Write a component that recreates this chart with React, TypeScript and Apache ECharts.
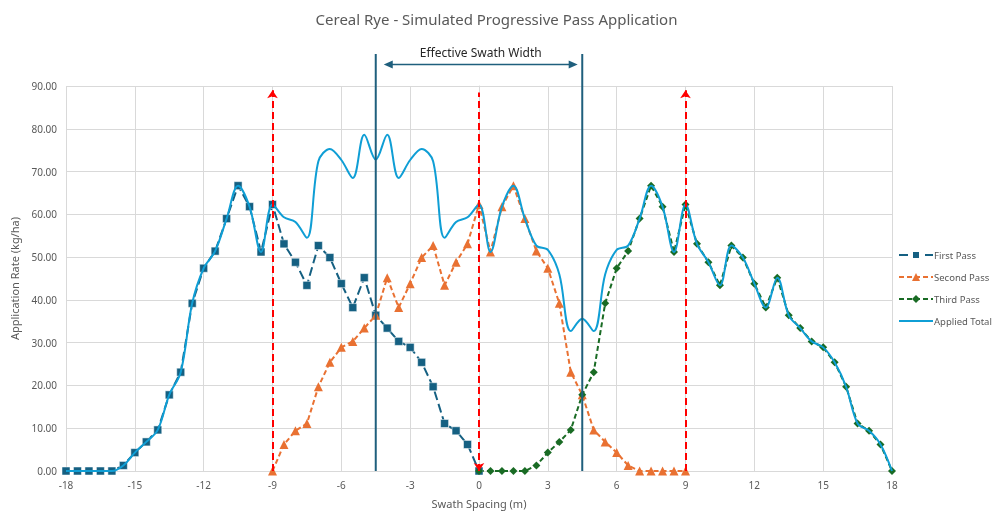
import React, { useEffect, useRef } from "react";
import * as echarts from "echarts";

const firstPassX = [-18, -17.5, -17, -16.5, -16, -15.5, -15, -14.5, -14, -13.5, -13, -12.5, -12, -11.5, -11, -10.5, -10, -9.5, -9, -8.5, -8, -7.5, -7, -6.5, -6, -5.5, -5, -4.5, -4, -3.5, -3, -2.5, -2, -1.5, -1, -0.5, 0];
const firstPassY = [0, 0, 0, 0, 0, 1.3, 4.3, 6.8, 9.6, 17.8, 23.1, 39.2, 47.4, 51.4, 59.0, 66.7, 61.8, 51.2, 62.3, 53.1, 48.8, 43.4, 52.7, 49.9, 43.8, 38.2, 45.2, 36.4, 33.4, 30.3, 28.9, 25.4, 19.7, 11.1, 9.4, 6.2, 0];

const secondPassX = [-9, -8.5, -8, -7.5, -7, -6.5, -6, -5.5, -5, -4.5, -4, -3.5, -3, -2.5, -2, -1.5, -1, -0.5, 0, 0.5, 1, 1.5, 2, 2.5, 3, 3.5, 4, 4.5, 5, 5.5, 6, 6.5, 7, 7.5, 8, 8.5, 9];
const secondPassY = [0, 6.2, 9.4, 11.1, 19.7, 25.4, 28.9, 30.3, 33.4, 36.4, 45.2, 38.2, 43.8, 49.9, 52.7, 43.4, 48.8, 53.1, 62.3, 51.2, 61.8, 66.7, 59.0, 51.4, 47.4, 39.2, 23.1, 17.8, 9.6, 6.8, 4.3, 1.3, 0, 0, 0, 0, 0];

const thirdPassX = [0, 0.5, 1, 1.5, 2, 2.5, 3, 3.5, 4, 4.5, 5, 5.5, 6, 6.5, 7, 7.5, 8, 8.5, 9, 9.5, 10, 10.5, 11, 11.5, 12, 12.5, 13, 13.5, 14, 14.5, 15, 15.5, 16, 16.5, 17, 17.5, 18];
const thirdPassY = [0, 0, 0, 0, 0, 1.3, 4.3, 6.8, 9.6, 17.8, 23.1, 39.2, 47.4, 51.4, 59.0, 66.7, 61.8, 51.2, 62.3, 53.1, 48.8, 43.4, 52.7, 49.9, 43.8, 38.2, 45.2, 36.4, 33.4, 30.3, 28.9, 25.4, 19.7, 11.1, 9.4, 6.2, 0];

const totalX = [-18, -17.5, -17, -16.5, -16, -15.5, -15, -14.5, -14, -13.5, -13, -12.5, -12, -11.5, -11, -10.5, -10, -9.5, -9, -8.5, -8, -7.5, -7, -6.5, -6, -5.5, -5, -4.5, -4, -3.5, -3, -2.5, -2, -1.5, -1, -0.5, 0, 0.5, 1, 1.5, 2, 2.5, 3, 3.5, 4, 4.5, 5, 5.5, 6, 6.5, 7, 7.5, 8, 8.5, 9, 9.5, 10, 10.5, 11, 11.5, 12, 12.5, 13, 13.5, 14, 14.5, 15, 15.5, 16, 16.5, 17, 17.5, 18];
const totalY = [0, 0, 0, 0, 0, 1.3, 4.3, 6.8, 9.6, 17.8, 23.1, 39.2, 47.4, 51.4, 59.0, 66.7, 61.8, 51.2, 62.3, 59.3, 58.2, 54.5, 72.4, 75.3, 72.7, 68.5, 78.6, 72.8, 78.6, 68.5, 72.7, 75.3, 72.4, 54.5, 58.2, 59.3, 62.3, 51.2, 61.8, 66.7, 59.0, 52.7, 51.7, 46.0, 32.7, 35.6, 32.7, 46.0, 51.7, 52.7, 59.0, 66.7, 61.8, 51.2, 62.3, 53.1, 48.8, 43.4, 52.7, 49.9, 43.8, 38.2, 45.2, 36.4, 33.4, 30.3, 28.9, 25.4, 19.7, 11.1, 9.4, 6.2, 0];

const passCentres = [-9, 0, 9];
const passArrowTop = [89, 88.5, 89];
const swathEdges = [-4.5, 4.5];
const swathLineTop = 97.5;
const swathArrowEnds = [-4.15, 4.3];
const swathArrowLevel = 95;
const swathLabel = "Effective Swath Width";
const swathLabelLevel = 97.9;

const zip = (xs: number[], ys: number[]) => xs.map((x, i) => [x, ys[i]]);

const FONT = "'Noto Sans', 'Open Sans', sans-serif";
const GREY = "#595959";
const SWATH = "#1F5F7D";

export default function App() {
  const ref = useRef<HTMLDivElement>(null);
  useEffect(() => {
    if (!ref.current) return;
    const chart = echarts.init(ref.current, undefined, { renderer: "svg" });
    const redLines = passCentres.map((c, i) => {
      const down = c === 0;
      return [
        { coord: [c, 0], symbol: down ? "arrow" : "none", symbolSize: 8, symbolRotate: down ? 180 : 0 },
        { coord: [c, passArrowTop[i]], symbol: down ? "none" : "arrow", symbolSize: 8 },
      ];
    });
    chart.setOption({
      animation: false,
      textStyle: { fontFamily: FONT },
      title: {
        text: "Cereal Rye - Simulated Progressive Pass Application",
        left: "center",
        top: 6,
        textStyle: { fontFamily: FONT, fontSize: 15, fontWeight: "normal", color: GREY },
      },
      legend: {
        data: [
          { name: "First Pass" },
          { name: "Second Pass" },
          { name: "Third Pass" },
          { name: "Applied Total", icon: "path://M0,0 L34,0 L34,2 L0,2 Z" },
        ],
        orient: "vertical",
        left: 893,
        top: 245,
        itemGap: 12,
        itemWidth: 34,
        itemHeight: 10,
        textStyle: { fontFamily: FONT, fontSize: 9.5, color: GREY, padding: [0, 0, 0, -4] },
      },
      grid: { left: 66, right: 101, top: 86, bottom: 41, containLabel: false },
      xAxis: {
        type: "value",
        min: -18,
        max: 18,
        interval: 3,
        name: "Swath Spacing (m)",
        nameLocation: "middle",
        nameGap: 27,
        nameTextStyle: { fontFamily: FONT, fontSize: 11, color: GREY },
        axisLine: { show: true, onZero: false, lineStyle: { color: "#D9D9D9" } },
        axisTick: { show: false },
        axisLabel: { fontFamily: FONT, fontSize: 10, color: GREY, margin: 9 },
        splitLine: { show: true, lineStyle: { color: "#D9D9D9", width: 1 } },
      },
      yAxis: {
        type: "value",
        min: 0,
        max: 90,
        interval: 10,
        name: "Application Rate (kg/ha)",
        nameLocation: "middle",
        nameRotate: 90,
        nameGap: 46,
        nameTextStyle: { fontFamily: FONT, fontSize: 11, color: GREY },
        axisLine: { show: true, lineStyle: { color: "#D9D9D9" } },
        axisTick: { show: false },
        axisLabel: { fontFamily: FONT, fontSize: 10, color: GREY, margin: 9, formatter: (v: number) => v.toFixed(2) },
        splitLine: { show: true, lineStyle: { color: "#D9D9D9", width: 1 } },
      },
      series: [
        {
          name: "First Pass",
          type: "line",
          data: zip(firstPassX, firstPassY),
          symbol: "rect",
          symbolSize: 8,
          lineStyle: { color: "#156082", width: 2, type: [9, 4] },
          itemStyle: { color: "#156082", borderColor: "#ffffff", borderWidth: 0.5 },
          z: 3,
        },
        {
          name: "Second Pass",
          type: "line",
          data: zip(secondPassX, secondPassY),
          symbol: "triangle",
          symbolSize: 9,
          lineStyle: { color: "#E97132", width: 2, type: [5, 3] },
          itemStyle: { color: "#E97132" },
          z: 3,
        },
        {
          name: "Third Pass",
          type: "line",
          data: zip(thirdPassX, thirdPassY),
          symbol: "diamond",
          symbolSize: 8,
          lineStyle: { color: "#196B24", width: 2, type: [5, 3] },
          itemStyle: { color: "#196B24" },
          z: 3,
        },
        {
          name: "Applied Total",
          type: "line",
          data: zip(totalX, totalY),
          symbol: "none",
          smooth: 0.35,
          lineStyle: { color: "#0F9ED5", width: 2 },
          itemStyle: { color: "#0F9ED5" },
          z: 4,
        },
        {
          name: "passMarkers",
          type: "line",
          data: [],
          clip: false,
          z: 5,
          markLine: {
            silent: true,
            animation: false,
            label: { show: false },
            lineStyle: { color: "#FF0000", width: 2, type: [7, 4] },
            emphasis: { disabled: true },
            data: redLines,
          },
        },
      ],
    });

    const p = (x: number, y: number) => chart.convertToPixel({ gridIndex: 0 }, [x, y]) as number[];
    const graphics: any[] = [];
    swathEdges.forEach((e) => {
      const a = p(e, 0);
      const b = p(e, swathLineTop);
      graphics.push({
        type: "line",
        shape: { x1: a[0], y1: a[1], x2: b[0], y2: b[1] },
        style: { stroke: SWATH, lineWidth: 2 },
        z: 10,
      });
    });
    const l = p(swathArrowEnds[0], swathArrowLevel);
    const r = p(swathArrowEnds[1], swathArrowLevel);
    graphics.push({
      type: "line",
      shape: { x1: l[0] + 4, y1: l[1], x2: r[0] - 4, y2: r[1] },
      style: { stroke: SWATH, lineWidth: 1.5 },
      z: 10,
    });
    graphics.push({
      type: "polygon",
      shape: { points: [[l[0], l[1]], [l[0] + 9, l[1] - 4], [l[0] + 9, l[1] + 4]] },
      style: { fill: SWATH },
      z: 10,
    });
    graphics.push({
      type: "polygon",
      shape: { points: [[r[0], r[1]], [r[0] - 9, r[1] - 4], [r[0] - 9, r[1] + 4]] },
      style: { fill: SWATH },
      z: 10,
    });
    const t = p((swathArrowEnds[0] + swathArrowEnds[1]) / 2, swathLabelLevel);
    graphics.push({
      type: "text",
      x: t[0],
      y: t[1],
      style: {
        text: swathLabel,
        fontFamily: FONT,
        fontSize: 12,
        fill: "#262626",
        textAlign: "center",
        textVerticalAlign: "middle",
      },
      z: 10,
    });
    chart.setOption({ graphic: graphics });

    return () => chart.dispose();
  }, []);
  return <div ref={ref} style={{ position: "fixed", left: 0, top: 0, width: 993, height: 514 }} />;
}
